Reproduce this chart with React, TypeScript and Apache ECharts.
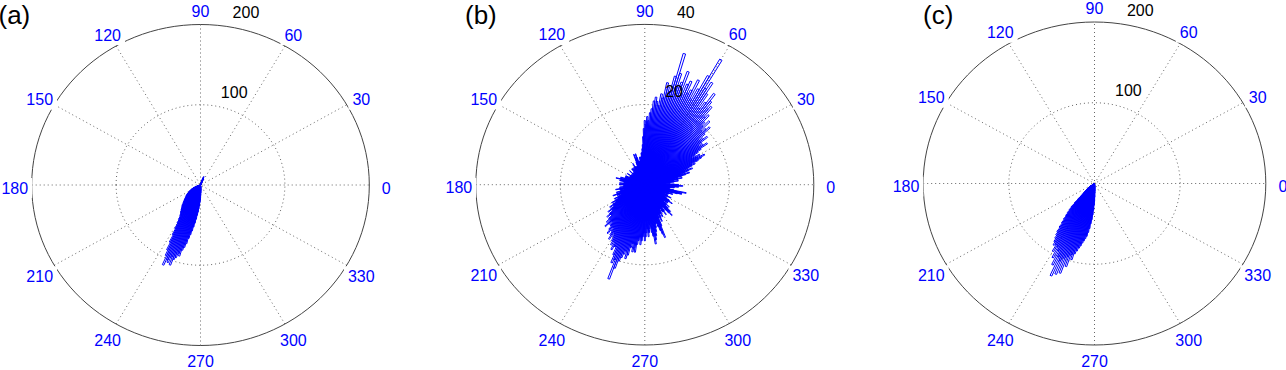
import React, { useEffect, useRef } from 'react';
import * as echarts from 'echarts';

// ---------- data ----------
const ANGLE_TICKS = [0, 30, 60, 90, 120, 150, 180, 210, 240, 270, 300, 330];
const SPOKE_ANGLES = [0, 30, 60, 90, 120, 150];
const PANEL_LABELS = ['(a)', '(b)', '(c)'];
const RINGS_A = [100, 200];
const RINGS_B = [20, 40];
const RINGS_C = [100, 200];
const BIN_WIDTH_DEG = 1;

// (a) rose bins: centre angle (deg) and count
const anglesA = [
  64, 65, 66, 67, 68, 69, 70, 71, 72, 73, 74, 75,
  200, 201, 202, 203, 204, 205, 206, 207, 208, 209,
  210, 211, 212, 213, 214, 215, 216, 217, 218, 219,
  220, 221, 222, 223, 224, 225, 226, 227, 228, 229,
  230, 231, 232, 233, 234, 235, 236, 237, 238, 239,
  240, 241, 242, 243, 244, 245, 246, 247, 248, 249,
  250, 251, 252, 253, 254, 255, 256, 257, 258, 259,
  260, 261, 262, 263, 264, 265, 266, 267, 268, 269,
  270, 271, 272, 273, 274, 275];
const countsA = [
  5, 7, 8, 9, 10, 11, 11, 10, 9, 7, 6, 4,
  5, 6, 8, 8, 10, 11, 12, 12, 13, 14,
  15, 16, 17, 17, 18, 19, 20, 21, 22, 22,
  23, 24, 25, 26, 27, 28, 29, 30, 31, 33,
  34, 35, 36, 38, 39, 41, 42, 44, 46, 50,
  55, 62, 70, 80, 90, 97, 109, 101, 104, 96,
  106, 98, 95, 89, 92, 84, 80, 75, 68, 63,
  58, 53, 48, 43, 38, 34, 30, 26, 22, 19,
  16, 13, 10, 8, 6, 4];

// (b) rose bins
const anglesB = [
  0, 1, 2, 3, 4, 5, 6, 7, 8, 9,
  10, 11, 12, 13, 14, 15, 16, 17, 18, 19,
  20, 21, 22, 23, 24, 25, 26, 27, 28, 29,
  30, 31, 32, 33, 34, 35, 36, 37, 38, 39,
  40, 41, 42, 43, 44, 45, 46, 47, 48, 49,
  50, 51, 52, 53, 54, 55, 56, 57, 58, 59,
  60, 61, 62, 63, 64, 65, 66, 67, 68, 69,
  70, 71, 72, 73, 74, 75, 76, 77, 78, 79,
  80, 81, 82, 83, 84, 85, 86, 87, 88, 89,
  90, 91, 92, 93, 94, 95, 96, 97, 98, 99,
  100, 101, 102, 103, 104, 105, 106, 107, 108, 109,
  110, 111, 112, 113, 114, 115, 116, 117, 118, 119,
  120, 121, 122, 123, 124, 125, 126, 127, 128, 129,
  130, 131, 132, 133, 134, 135, 136, 137, 138, 139,
  140, 141, 142, 143, 144, 145, 146, 147, 148, 149,
  150, 151, 152, 153, 154, 155, 156, 157, 158, 159,
  160, 161, 162, 163, 164, 165, 166, 167, 168, 169,
  170, 171, 172, 173, 174, 175, 176, 177, 178, 179,
  180, 181, 182, 183, 184, 185, 186, 187, 188, 189,
  190, 191, 192, 193, 194, 195, 196, 197, 198, 199,
  200, 201, 202, 203, 204, 205, 206, 207, 208, 209,
  210, 211, 212, 213, 214, 215, 216, 217, 218, 219,
  220, 221, 222, 223, 224, 225, 226, 227, 228, 229,
  230, 231, 232, 233, 234, 235, 236, 237, 238, 239,
  240, 241, 242, 243, 244, 245, 246, 247, 248, 249,
  250, 251, 252, 253, 254, 255, 256, 257, 258, 259,
  260, 261, 262, 263, 264, 265, 266, 267, 268, 269,
  270, 271, 272, 273, 274, 275, 276, 277, 278, 279,
  280, 281, 282, 283, 284, 285, 286, 287, 288, 289,
  290, 291, 292, 293, 294, 295, 296, 297, 298, 299,
  300, 301, 302, 303, 304, 305, 306, 307, 308, 309,
  310, 311, 312, 313, 314, 315, 316, 317, 318, 319,
  320, 321, 322, 323, 324, 325, 326, 327, 328, 329,
  330, 331, 332, 333, 334, 335, 336, 337, 338, 339,
  340, 341, 342, 343, 344, 345, 346, 347, 348, 349,
  350, 351, 352, 353, 354, 355, 356, 357, 358, 359];
const countsB = [
  8, 7, 6, 5, 5, 6, 7, 8, 6, 7,
  8, 9, 7, 8, 9, 10, 11, 9, 10, 11,
  12, 10, 11, 12, 13, 12, 14, 15, 16, 14,
  15, 13, 14, 15, 16, 18, 17, 16, 17, 19,
  18, 17, 19, 21, 20, 19, 22, 20, 21, 23,
  22, 25, 24, 26, 28, 25, 23, 27, 30, 28,
  36, 31, 27, 24, 29, 26, 25, 28, 27, 24,
  30, 27, 26, 29, 34, 28, 24, 25, 26, 22,
  23, 20, 21, 22, 21, 19, 18, 16, 17, 15,
  16, 14, 12, 10, 9, 8, 8, 7, 7, 6,
  7, 6, 5, 6, 6, 7, 8, 6, 7, 8,
  6, 5, 5, 4, 4, 5, 5, 4, 6, 5,
  4, 4, 5, 3, 4, 5, 3, 4, 5, 4,
  4, 3, 3, 4, 4, 3, 5, 4, 3, 3,
  4, 3, 3, 4, 4, 3, 5, 4, 3, 4,
  4, 3, 3, 4, 5, 4, 4, 5, 5, 4,
  4, 5, 6, 5, 5, 6, 7, 5, 5, 6,
  6, 5, 5, 4, 4, 5, 6, 5, 5, 6,
  6, 5, 5, 4, 4, 5, 6, 5, 5, 6,
  7, 6, 6, 5, 5, 6, 7, 6, 6, 7,
  8, 7, 7, 6, 6, 7, 8, 7, 7, 8,
  9, 8, 8, 9, 10, 9, 9, 10, 11, 10,
  10, 11, 12, 11, 11, 12, 13, 12, 14, 13,
  12, 13, 13, 14, 15, 13, 14, 15, 16, 14,
  15, 16, 17, 16, 18, 17, 17, 19, 21, 20,
  25, 22, 20, 19, 18, 17, 19, 18, 16, 15,
  17, 16, 17, 15, 14, 13, 15, 14, 13, 12,
  14, 13, 12, 11, 13, 12, 11, 10, 12, 13,
  15, 14, 13, 12, 11, 10, 10, 11, 12, 13,
  14, 11, 9, 8, 10, 9, 8, 8, 9, 8,
  7, 7, 8, 8, 9, 8, 7, 7, 8, 9,
  10, 9, 9, 8, 7, 7, 8, 7, 6, 6,
  7, 7, 6, 7, 8, 7, 7, 6, 6, 5,
  5, 6, 7, 6, 6, 5, 5, 6, 6, 6,
  7, 6, 6, 7, 8, 9, 9, 8, 10, 7,
  6, 5, 5, 6, 7, 7, 8, 8, 9, 8];

// (c) rose bins
const anglesC = [
  214, 215, 216, 217, 218, 219,
  220, 221, 222, 223, 224, 225, 226, 227, 228, 229,
  230, 231, 232, 233, 234, 235, 236, 237, 238, 239,
  240, 241, 242, 243, 244, 245, 246, 247, 248, 249,
  250, 251, 252, 253, 254, 255, 256, 257, 258, 259,
  260, 261, 262, 263, 264, 265, 266, 267, 268, 269,
  270, 271, 272, 273, 274, 275];
const countsC = [
  6, 7, 8, 9, 10, 11,
  13, 15, 17, 19, 22, 28, 34, 40, 44, 48,
  52, 57, 62, 68, 74, 78, 82, 86, 90, 88,
  97, 89, 104, 93, 112, 100, 125, 104, 121, 99,
  118, 96, 108, 92, 98, 90, 86, 82, 79, 75,
  72, 69, 66, 61, 56, 50, 45, 39, 33, 27,
  22, 17, 12, 9, 6, 4];

// ---------- style / layout ----------
const FONT = "'Liberation Sans', Arial, Helvetica, sans-serif";
const BLUE = '#0000ff';
const GRID_GRAY = '#666666';
const FRAME = '#444444';
const LABEL_MAX_Y = 361;
const LAYOUT = [
  { cx: 200.5, cy: 185, rx: 168.8, ry: 160.5, labelX: -1.5, labelY: 14.6 },
  { cx: 644.8, cy: 184.7, rx: 169, ry: 160.3, labelX: 465, labelY: 14.6 },
  { cx: 1094.5, cy: 183.5, rx: 171.3, ry: 161.5, labelX: 923, labelY: 14.6 },
];

const PANELS = [
  { angles: anglesA, counts: countsA, rings: RINGS_A },
  { angles: anglesB, counts: countsB, rings: RINGS_B },
  { angles: anglesC, counts: countsC, rings: RINGS_C },
];

const D2R = Math.PI / 180;

function ringRender(dotted: boolean) {
  return (_p: any, api: any) => {
    const r = api.value(0);
    const c = api.coord([0, 0]);
    const px = api.coord([r, 0]);
    const py = api.coord([0, r]);
    return {
      type: 'ellipse',
      shape: { cx: c[0], cy: c[1], rx: px[0] - c[0], ry: c[1] - py[1] },
      style: dotted
        ? { fill: 'none', stroke: GRID_GRAY, lineWidth: 1, lineDash: [1, 3] }
        : { fill: 'none', stroke: FRAME, lineWidth: 1 },
    };
  };
}

function spokeRender(_p: any, api: any) {
  const a = api.value(0) * D2R;
  const r = api.value(1);
  const p1 = api.coord([-r * Math.cos(a), -r * Math.sin(a)]);
  const p2 = api.coord([r * Math.cos(a), r * Math.sin(a)]);
  return {
    type: 'line',
    shape: { x1: p1[0], y1: p1[1], x2: p2[0], y2: p2[1] },
    style: { stroke: GRID_GRAY, lineWidth: 1, lineDash: [1, 3] },
  };
}

function wedgeRender(_p: any, api: any) {
  const a = api.value(0);
  const r = api.value(1);
  const t1 = (a - BIN_WIDTH_DEG / 2) * D2R;
  const t2 = (a + BIN_WIDTH_DEG / 2) * D2R;
  const p0 = api.coord([0, 0]);
  const p1 = api.coord([r * Math.cos(t1), r * Math.sin(t1)]);
  const p2 = api.coord([r * Math.cos(t2), r * Math.sin(t2)]);
  return {
    type: 'polygon',
    shape: { points: [p0, p1, p2] },
    style: { fill: 'none', stroke: BLUE, lineWidth: 1 },
  };
}

function angleLabelRender(_p: any, api: any) {
  const deg = api.value(0);
  const rmax = api.value(1);
  const a = deg * D2R;
  const p = api.coord([1.1 * rmax * Math.cos(a), 1.1 * rmax * Math.sin(a)]);
  return {
    type: 'text',
    x: p[0],
    y: Math.min(p[1] + 3, LABEL_MAX_Y),
    style: {
      text: String(deg),
      fill: BLUE,
      fontSize: 16,
      fontFamily: FONT,
      align: 'center',
      verticalAlign: 'middle',
      textAlign: 'center',
      textVerticalAlign: 'middle',
      backgroundColor: '#ffffff',
      padding: [2, 4],
    },
  };
}

function radiusLabelRender(_p: any, api: any) {
  const v = api.value(0);
  const rmax = api.value(1);
  const rr = v + rmax / 40;
  const a = 82 * D2R;
  const p = api.coord([rr * Math.cos(a), rr * Math.sin(a)]);
  return {
    type: 'text',
    x: p[0] + 8,
    y: p[1] - 1.5,
    style: {
      text: String(v),
      fill: '#000000',
      fontSize: 16,
      fontFamily: FONT,
      align: 'left',
      verticalAlign: 'bottom',
      textAlign: 'left',
      textVerticalAlign: 'bottom',
    },
  };
}

function buildOption() {
  const grid: any[] = [];
  const xAxis: any[] = [];
  const yAxis: any[] = [];
  const series: any[] = [];
  const graphic: any[] = [];

  PANELS.forEach((p, i) => {
    const L = LAYOUT[i];
    const rmax = p.rings[p.rings.length - 1];
    grid.push({ left: L.cx - L.rx, top: L.cy - L.ry, width: 2 * L.rx, height: 2 * L.ry, containLabel: false });
    xAxis.push({ type: 'value', gridIndex: i, min: -rmax, max: rmax, show: false });
    yAxis.push({ type: 'value', gridIndex: i, min: -rmax, max: rmax, show: false });
    const base = { type: 'custom', xAxisIndex: i, yAxisIndex: i, silent: true, clip: false, animation: false };
    series.push({ ...base, z: 1, data: p.rings.slice(0, -1).map((r) => [r, 0]), renderItem: ringRender(true) });
    series.push({ ...base, z: 1, data: SPOKE_ANGLES.map((a) => [a, rmax]), renderItem: spokeRender });
    series.push({ ...base, z: 2, data: [[rmax, 0]], renderItem: ringRender(false) });
    series.push({ ...base, z: 3, data: p.angles.map((a, k) => [a, p.counts[k]]), renderItem: wedgeRender });
    series.push({ ...base, z: 4, data: ANGLE_TICKS.map((a) => [a, rmax]), renderItem: angleLabelRender });
    series.push({ ...base, z: 5, data: p.rings.map((r) => [r, rmax]), renderItem: radiusLabelRender });
    graphic.push({
      type: 'text',
      x: L.labelX,
      y: L.labelY,
      z: 10,
      style: {
        text: PANEL_LABELS[i],
        fontSize: 26,
        fontFamily: FONT,
        fill: '#000000',
        align: 'left',
        verticalAlign: 'middle',
        textAlign: 'left',
        textVerticalAlign: 'middle',
      },
    });
  });

  return {
    animation: false,
    backgroundColor: '#ffffff',
    grid,
    xAxis,
    yAxis,
    series,
    graphic,
  };
}

export default function App() {
  const ref = useRef<HTMLDivElement | null>(null);
  useEffect(() => {
    if (!ref.current) return;
    const chart = echarts.init(ref.current, null, { renderer: 'svg' });
    chart.setOption(buildOption() as any);
    return () => {
      chart.dispose();
    };
  }, []);
  return (
    <div
      ref={ref}
      style={{ position: 'absolute', left: 0, top: 0, width: 1286, height: 370, background: '#ffffff' }}
    />
  );
}
